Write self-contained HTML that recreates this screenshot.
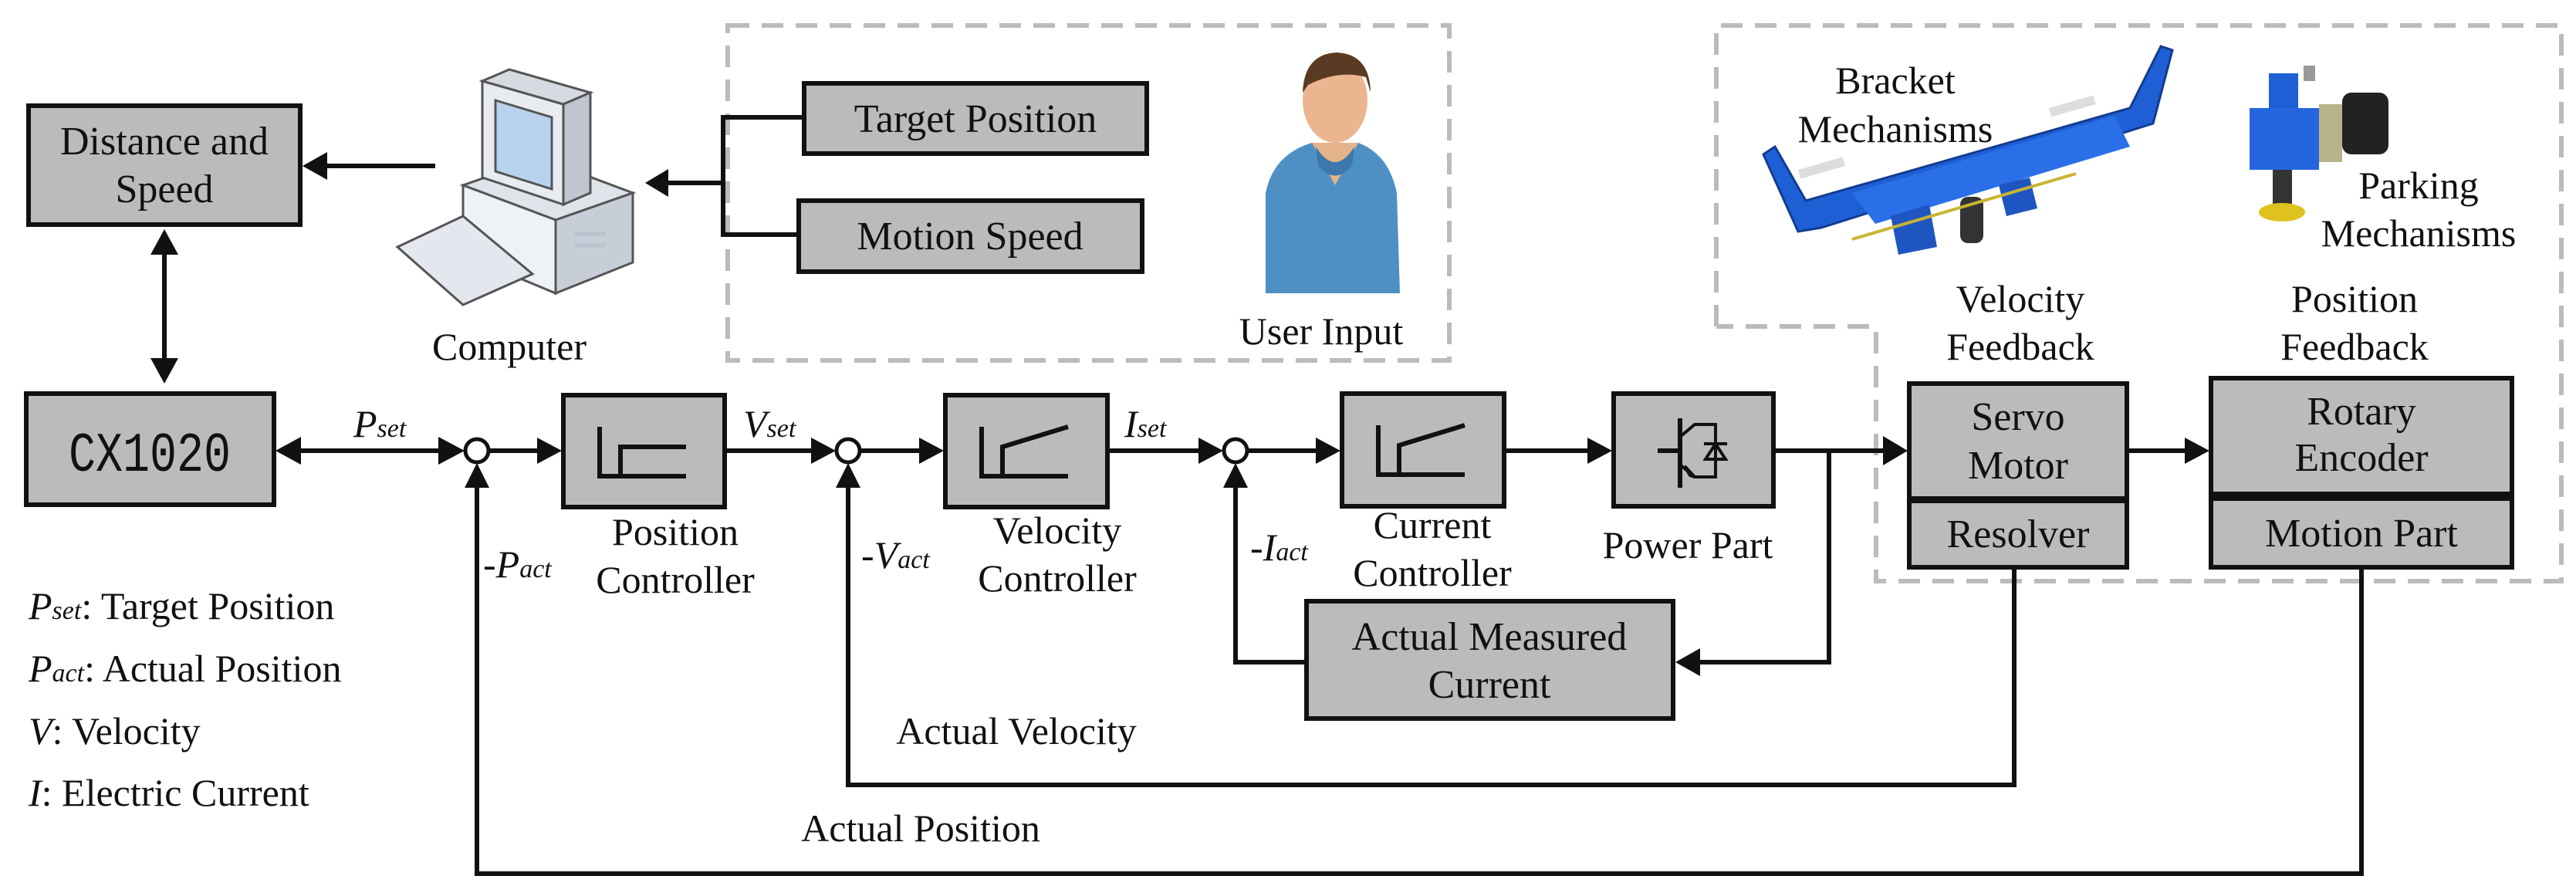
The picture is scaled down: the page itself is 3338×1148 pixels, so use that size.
<!DOCTYPE html>
<html><head><meta charset="utf-8"><style>
html,body{margin:0;padding:0;background:#fff;}
svg{display:block;}
text{font-family:"Liberation Serif",serif;fill:#111;}
</style></head><body>
<svg width="3338" height="1148" viewBox="0 0 3338 1148" xmlns="http://www.w3.org/2000/svg">
<!-- dashed boxes -->
<rect x="943" y="33" width="935" height="434" fill="none" stroke="#bbb" stroke-width="6" stroke-dasharray="28,16"/>
<polyline points="2224,423 2224,33 3319,33 3319,753 2431,753 2431,423 2224,423" fill="none" stroke="#bbb" stroke-width="6" stroke-dasharray="28,16"/>

<g stroke="#111" stroke-width="6" fill="#bbb">
<rect x="37" y="137" width="352" height="154"/>
<rect x="1042" y="108" width="444" height="91"/>
<rect x="1035" y="260" width="445" height="92"/>
<rect x="34" y="510" width="321" height="144"/>
<rect x="730" y="512" width="209" height="145"/>
<rect x="1225" y="512" width="210" height="145"/>
<rect x="1739" y="510" width="210" height="146"/>
<rect x="2091" y="510" width="207" height="146"/>
<rect x="1693" y="779" width="475" height="152"/>
<rect x="2474" y="497" width="282" height="149"/>
<rect x="2474" y="649" width="282" height="86"/>
<rect x="2865" y="490" width="390" height="150"/>
<rect x="2865" y="646" width="390" height="89"/>
</g>

<!-- connectors -->
<g stroke="#111" stroke-width="6" fill="none">
<line x1="564" y1="215" x2="420" y2="215"/>
<line x1="213" y1="325" x2="213" y2="470"/>
<polyline points="1042,152 937,152 937,304 1035,304"/>
<line x1="937" y1="237" x2="860" y2="237"/>
<line x1="385" y1="584" x2="588" y2="584"/>
<line x1="634" y1="584" x2="700" y2="584"/>
<line x1="939" y1="584" x2="1070" y2="584"/>
<line x1="1115" y1="584" x2="1195" y2="584"/>
<line x1="1435" y1="584" x2="1572" y2="584"/>
<line x1="1617" y1="584" x2="1710" y2="584"/>
<line x1="1949" y1="584" x2="2062" y2="584"/>
<line x1="2298" y1="584" x2="2445" y2="584"/>
<line x1="2756" y1="584" x2="2836" y2="584"/>
<polyline points="2370,584 2370,858 2198,858"/>
<polyline points="1693,858 1601,858 1601,630"/>
<polyline points="2610,735 2610,1017 1099,1017 1099,630"/>
<polyline points="3060,735 3060,1132 618,1132 618,630"/>
</g>
<g fill="#fff" stroke="#111" stroke-width="5">
<circle cx="618" cy="584" r="15"/>
<circle cx="1099" cy="584" r="15"/>
<circle cx="1601" cy="584" r="15"/>
</g>
<!-- arrowheads -->
<g fill="#111">
<polygon points="392,215 424,197 424,233"/>
<polygon points="213,297 195,330 231,330"/>
<polygon points="213,497 195,464 231,464"/>
<polygon points="836,237 866,219 866,255"/>
<polygon points="357,584 390,566 390,602"/>
<polygon points="602,584 568,566 568,602"/>
<polygon points="728,584 696,567 696,601"/>
<polygon points="1083,584 1051,567 1051,601"/>
<polygon points="1223,584 1191,567 1191,601"/>
<polygon points="1585,584 1553,567 1553,601"/>
<polygon points="1737,584 1705,567 1705,601"/>
<polygon points="2089,584 2057,567 2057,601"/>
<polygon points="2472,584 2440,565 2440,603"/>
<polygon points="2863,584 2831,567 2831,601"/>
<polygon points="2171,858 2203,840 2203,876"/>
<polygon points="618,600 602,632 634,632"/>
<polygon points="1099,600 1083,632 1115,632"/>
<polygon points="1601,600 1585,632 1617,632"/>
</g>

<!-- controller icons -->
<g stroke="#111" stroke-width="6" fill="none">
<polyline points="777,553 777,617 889,617"/>
<polyline points="804,617 804,579 889,579"/>
<polyline points="1272,553 1272,617 1384,617"/>
<polyline points="1299,617 1299,579 1384,553"/>
<polyline points="1786,551 1786,615 1898,615"/>
<polyline points="1813,615 1813,577 1898,551"/>
<line x1="2177" y1="542" x2="2177" y2="632"/>
<line x1="2148" y1="584" x2="2177" y2="584"/>
<polyline points="2177,566 2196,550 2223,550 2223,618 2196,618 2177,602" stroke-width="4"/>
</g>
<polygon points="2210,595 2236,595 2223,575" fill="none" stroke="#111" stroke-width="4"/>
<line x1="2208" y1="575" x2="2238" y2="575" stroke="#111" stroke-width="4"/>
<polygon points="2196,618 2183,604 2190,616" fill="#111" stroke="#111" stroke-width="4"/>

<!-- computer icon -->
<g stroke="#555" stroke-width="3">
<polygon points="600,240 720,285 820,250 700,205" fill="#dfe3ea"/>
<polygon points="600,240 600,330 720,380 720,285" fill="#eef1f5"/>
<polygon points="720,285 820,250 820,340 720,380" fill="#c8ced8"/>
<polygon points="625,105 730,135 730,265 625,230" fill="#e8ebef"/>
<polygon points="642,130 715,152 715,245 642,222" fill="#b9d3ee"/>
<polygon points="625,105 660,90 765,120 730,135" fill="#d6dbe2"/>
<polygon points="730,135 765,120 765,250 730,265" fill="#c0c6d0"/>
<polygon points="515,320 600,280 690,355 600,395" fill="#e4e8ee"/>
</g>
<g fill="#bcc4cf">
<rect x="745" y="300" width="40" height="6"/>
<rect x="745" y="315" width="40" height="6"/>
</g>

<!-- person -->
<g>
<path d="M1640,380 L1640,250 Q1650,200 1700,185 L1760,185 Q1800,200 1810,250 L1814,380 Z" fill="#4f90c4"/>
<path d="M1700,185 L1730,240 L1760,185 Z" fill="#e6b48a"/>
<ellipse cx="1730" cy="130" rx="42" ry="55" fill="#eab58f"/>
<path d="M1688,120 Q1690,70 1732,68 Q1775,70 1776,120 L1770,100 Q1735,90 1695,110 Z" fill="#5a3a22"/>
<path d="M1705,190 Q1730,230 1755,190 L1752,215 Q1730,240 1708,215Z" fill="#3c78ab"/>
</g>

<!-- bracket mechanism -->
<g>
<polygon points="2285,200 2300,190 2340,260 2760,140 2800,60 2815,65 2790,160 2360,295 2330,300" fill="#1f5fd6" stroke="#123c8f" stroke-width="3"/>
<polygon points="2400,250 2740,150 2760,190 2430,290" fill="#2a6fe8"/>
<rect x="2330" y="220" width="60" height="12" fill="#ddd" transform="rotate(-16 2330 220)"/>
<rect x="2655" y="140" width="60" height="12" fill="#ddd" transform="rotate(-16 2655 140)"/>
<polygon points="2450,280 2500,265 2510,320 2460,330" fill="#1f55c0"/>
<polygon points="2590,240 2630,230 2640,270 2600,280" fill="#1f55c0"/>
<rect x="2540" y="255" width="30" height="60" rx="10" fill="#333"/>
<line x1="2400" y1="310" x2="2690" y2="225" stroke="#c9b431" stroke-width="4"/>
</g>
<!-- parking mechanism -->
<g>
<rect x="2940" y="95" width="38" height="60" fill="#1f5fd6"/>
<rect x="2915" y="140" width="90" height="80" fill="#2566de"/>
<rect x="3005" y="135" width="30" height="75" fill="#b8b38a"/>
<rect x="3035" y="120" width="60" height="80" rx="12" fill="#222"/>
<rect x="2945" y="220" width="25" height="45" fill="#333"/>
<ellipse cx="2957" cy="275" rx="30" ry="12" fill="#e0c21e"/>
<rect x="2985" y="85" width="15" height="20" fill="#999"/>
</g>

<!-- text in boxes -->
<g font-size="52" text-anchor="middle">
<text x="213" y="200">Distance and</text>
<text x="213" y="262">Speed</text>
<text x="1264" y="171">Target Position</text>
<text x="1257" y="323">Motion Speed</text>
<text x="1930" y="842">Actual Measured</text>
<text x="1930" y="904">Current</text>
<text x="2615" y="557">Servo</text>
<text x="2615" y="620">Motor</text>
<text x="2615" y="709">Resolver</text>
<text x="3060" y="550">Rotary</text>
<text x="3060" y="610">Encoder</text>
<text x="3060" y="708">Motion Part</text>
</g>
<text x="194" y="610" font-size="72" text-anchor="middle" style="font-family:'Liberation Sans Narrow','Liberation Mono',monospace" textLength="210" lengthAdjust="spacingAndGlyphs">CX1020</text>

<!-- labels -->
<g font-size="50" text-anchor="middle">
<text x="660" y="466">Computer</text>
<text x="1712" y="446">User Input</text>
<text x="2456" y="121">Bracket</text>
<text x="2456" y="184">Mechanisms</text>
<text x="3134" y="257">Parking</text>
<text x="3134" y="319">Mechanisms</text>
<text x="2618" y="404">Velocity</text>
<text x="2618" y="466">Feedback</text>
<text x="3051" y="404">Position</text>
<text x="3051" y="466">Feedback</text>
<text x="875" y="706">Position</text>
<text x="875" y="768">Controller</text>
<text x="1370" y="704">Velocity</text>
<text x="1370" y="766">Controller</text>
<text x="1856" y="697">Current</text>
<text x="1856" y="759">Controller</text>
<text x="2187" y="723">Power Part</text>
<text x="1317" y="964">Actual Velocity</text>
<text x="1193" y="1090">Actual Position</text>
</g>
<g font-size="50" font-style="italic">
<text x="458" y="566">P<tspan font-size="34">set</tspan></text>
<text x="963" y="566">V<tspan font-size="34">set</tspan></text>
<text x="1457" y="566">I<tspan font-size="34">set</tspan></text>
<text x="626" y="748"><tspan font-style="normal">-</tspan>P<tspan font-size="34">act</tspan></text>
<text x="1116" y="736"><tspan font-style="normal">-</tspan>V<tspan font-size="34">act</tspan></text>
<text x="1620" y="726"><tspan font-style="normal">-</tspan>I<tspan font-size="34">act</tspan></text>
</g>
<g font-size="50">
<text x="37" y="802"><tspan font-style="italic">P<tspan font-size="34">set</tspan></tspan>: Target Position</text>
<text x="37" y="883"><tspan font-style="italic">P<tspan font-size="34">act</tspan></tspan>: Actual Position</text>
<text x="37" y="964"><tspan font-style="italic">V</tspan>: Velocity</text>
<text x="37" y="1044"><tspan font-style="italic">I</tspan>: Electric Current</text>
</g>
</svg>
</body></html>
